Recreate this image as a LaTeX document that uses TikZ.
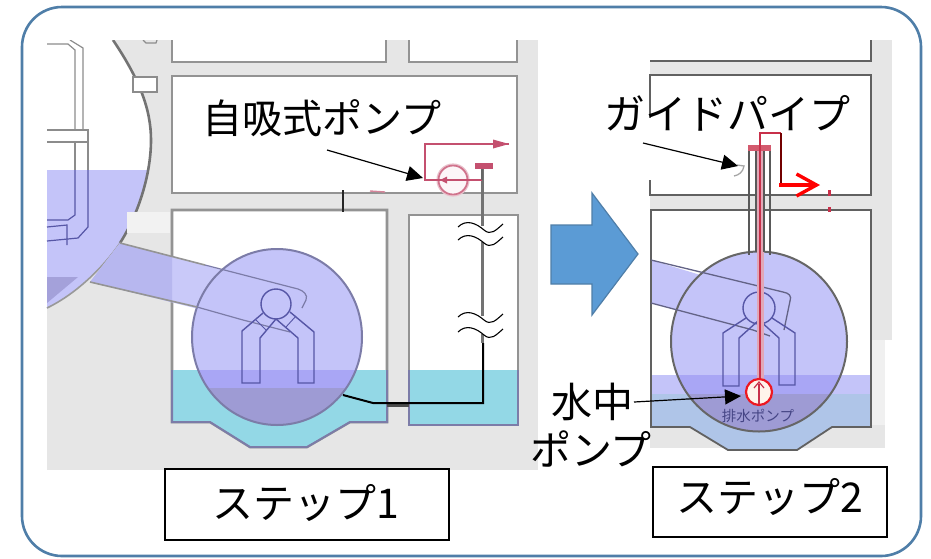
\documentclass[tikz,border=0pt]{standalone}
\usepackage{fontspec}
\setmainfont{Noto Sans CJK JP}
\usetikzlibrary{arrows.meta}
\definecolor{bggray}{HTML}{E6E6E6}
\definecolor{lav}{HTML}{C4C4F9}
\definecolor{lavmid}{HTML}{A9A6F5}
\definecolor{lavdeep}{HTML}{9E9BD4}
\definecolor{ventl}{HTML}{B7B7EF}
\definecolor{wat}{HTML}{93D8E6}
\definecolor{wat2}{HTML}{AFC5E8}
\definecolor{edge}{HTML}{7C7CA8}
\definecolor{leg}{HTML}{5656A6}
\definecolor{frameblue}{HTML}{4F7EA8}
\definecolor{arrowblue}{HTML}{5B9BD5}
\definecolor{pink}{HTML}{C4506F}
\definecolor{crim}{HTML}{C8304A}
\tikzset{
  frame/.style={draw=frameblue,line width=2.6pt,rounded corners=40pt,fill=white},
  roomA/.style={draw=gray!85,line width=2.6pt,fill=white},
  roomB/.style={draw=black!62,line width=1.8pt,fill=white},
  vessel/.style={draw=edge,line width=2pt},
  legline/.style={draw=leg,line width=1.4pt},
  label/.style={font=\fontsize{41}{41}\selectfont,inner sep=0pt,text=black},
  stepbox/.style={draw=black,line width=2pt,fill=white,inner sep=0pt},
  callout/.style={draw=black,line width=1.2pt,-{Triangle[length=16pt,width=15pt]}},
  wavy/.style={draw=black,line width=1.1pt},
  pumpred/.style={draw=pink,line width=1.6pt},
}
\begin{document}
\begin{tikzpicture}[x=1pt,y=-1pt]
\useasboundingbox (0,0) rectangle (931,558);
\draw[frame] (22,7) rectangle (921,556);

% ---------- left panel ----------
\fill[bggray] (47,40) rectangle (538,470);
% drywell
\def\tankpath{(47,40) -- (113,40) .. controls (140,80) and (151,110) .. (151,140) .. controls (151,175) and (138,215) .. (120,243) .. controls (105,265) and (78,293) .. (47,308) -- cycle}
\fill[white] \tankpath;
\begin{scope}
  \clip \tankpath;
  \fill[lav] (47,170) rectangle (160,320);
  \fill[lavdeep!85!lav] (47,277) -- (78,277) -- (47,303) -- cycle;
  \draw[legline,draw=black!45,line width=1.2pt] (47,44) -- (68,44) -- (75,50) -- (75,130);
  \draw[legline,draw=black!45,line width=1.2pt] (70,40) -- (83,48) -- (83,130);
  \draw[fill=white,draw=black!45,line width=1.2pt] (44,130) rectangle (88,142);
\end{scope}
\draw[draw=black!45,line width=1.2pt] (75,142) -- (75,170);
\draw[draw=black!45,line width=1.2pt] (88,142) -- (88,170);
\draw[legline,line width=1.2pt] (75,170) -- (75,215) -- (68,220) -- (47,220);
\draw[legline,line width=1.2pt] (88,170) -- (88,227) -- (78,238) -- (47,241);
\draw[legline,line width=1.2pt] (47,227) -- (67,225) -- (67,245);
\draw[draw=black!55,line width=2.6pt] (113,40) .. controls (140,80) and (151,110) .. (151,140) .. controls (151,175) and (138,215) .. (120,243);
\draw[draw=black!40,line width=1.6pt] (120,243) .. controls (105,265) and (78,293) .. (47,308);
\draw[draw=black!45,line width=1.4pt,fill=white] (133,77) rectangle (157,92);
\draw[draw=black!45,line width=1.2pt] (143,40) -- (146,43) -- (156,43) -- (157,40);

% rooms
\draw[roomA] (172,36) -- (172,62) -- (386,62) -- (386,36);
\fill[white] (173.5,40) rectangle (384.5,60.5);
\draw[roomA] (409,36) -- (409,62) -- (517,62) -- (517,36);
\fill[white] (410.5,40) rectangle (515.5,60.5);
\fill[white] (47,24) rectangle (538,40);
\draw[roomA] (172,76) rectangle (517,193);
\draw[roomA] (172,210) -- (387,210) -- (387,422) -- (350,422) -- (307,447) -- (250,447) -- (210,422) -- (172,422) -- cycle;
\draw[roomA] (409,215) rectangle (518,425);
% water
\fill[wat] (173,370) -- (386,370) -- (386,421) -- (350,421) -- (307,446) -- (250,446) -- (210,421) -- (173,421) -- cycle;
\fill[wat] (410,370) rectangle (517,424);
\draw[draw=edge,line width=2pt] (172,370) -- (172,422) -- (210,422) -- (250,447) -- (307,447) -- (350,422) -- (387,422) -- (387,370);
\draw[draw=edge,line width=2pt] (409,370) -- (409,425) -- (518,425) -- (518,370);
% vent pipe
\fill[lav!92!white] (120,243) -- (230,272) -- (243,320) -- (90,282) -- cycle;
\fill[ventl] (120,243) -- (172,256.5) -- (172,302) -- (90,282) -- cycle;
% circle
\fill[lav] (277,337) ellipse [x radius=85,y radius=88];
\begin{scope}
  \clip (277,337) ellipse [x radius=85,y radius=88];
  \fill[lavmid] (190,370) rectangle (365,388);
  \fill[lavdeep] (190,388) rectangle (365,430);
\end{scope}
\draw[vessel] (277,337) ellipse [x radius=85,y radius=88];
% vent edges
\draw[draw=black!42,line width=1.6pt] (120,243) -- (205,265);
\draw[draw=black!42,line width=1.6pt] (90,282) -- (197,307);
\draw[draw=edge,line width=1.2pt] (205,265) -- (298,289) .. controls (304,291) and (308,295) .. (306,300) -- (302,308);
\draw[draw=edge,line width=1.2pt] (197,307) -- (243,320) -- (290,332);
% Y structure
\draw[legline] (276,304) circle [radius=15];
\draw[legline] (263,313) -- (242,331) -- (242,383) -- (260,383) -- (260,338) -- (276,319) -- (298,338) -- (298,383) -- (314,383) -- (314,332) -- (290,312);
\draw[legline,line width=.9pt] (256,320) -- (266,330);
\draw[legline,line width=.9pt] (296,316) -- (286,327);
% white patch
\fill[black!5] (127,212) rectangle (170,233);
% pipe lines
\draw[draw=black!85,line width=2.8pt] (343,190) -- (343,212);
\draw[draw=pink!70,line width=1.4pt] (370,191) -- (385,192);
\draw[draw=black!55,line width=3pt] (482,168) -- (482,343);
\draw[draw=black!70,line width=3.2pt] (387,405) -- (409,405);
\coordinate (wetA) at (343,395);
\coordinate (wetB) at (373,403);
\coordinate (wetC) at (483,403);
\coordinate (wetD) at (483,343);
\draw[draw=black,line width=2pt] (wetA) -- (wetB) -- (wetC) -- (wetD);
% break marks
\fill[white] (470,226) rectangle (495,242);
\fill[white] (470,316) rectangle (495,334);
\foreach \yy in {227,240,317,332}{
  \draw[wavy] (458,\yy) .. controls (466,\yy-8) and (476,\yy-4) .. (484,\yy+3) .. controls (491,\yy+9) and (496,\yy+3) .. (503,\yy-3);
}
% pump
\draw[draw=pink!35,line width=1.2pt,fill=pink!5] (453,180) circle [radius=16];
\draw[draw=pink!80,line width=1.8pt] (453,180) circle [radius=14.5];
\coordinate (pumpW) at (425,180);
\coordinate (pumpE) at (482,180);
\coordinate (pumpU) at (425,144);
\coordinate (pumpO) at (509,144);
\draw[pumpred] (pumpE) -- (pumpW) -- (pumpU) -- (pumpO);
\fill[pink] (509,144) -- (493,139.5) -- (493,148.5) -- cycle;
\fill[pink] (440,180) -- (447,176.5) -- (447,183.5) -- cycle;
\fill[pink] (475,163) rectangle (493,169);
\draw[draw=black!60,line width=2pt] (482,169) -- (482,180);

% labels left
\node[label,font=\fontsize{40}{40}\selectfont] (selfp) at (322,118) {自吸式ポンプ};
\coordinate (selfs) at (327,150);
\coordinate (selft) at (423,178);
\draw[callout] (selfs) -- (selft);

\node[stepbox,minimum width=284pt,minimum height=71pt] (stepa) at (307,504.5) {};
\node[label] (stepat) at (306,503) {ステップ1};

% big arrow
\draw[draw=frameblue,line width=1.2pt,fill=arrowblue] (551,225) -- (592,225) -- (592,193) -- (638,254) -- (592,315) -- (592,284) -- (551,284) -- cycle;

% ---------- right panel ----------
\fill[bggray] (650,40) rectangle (892,340);
\fill[black!6] (650,340) rectangle (885,448);
\fill[bggray] (650,425) rectangle (885,448);
\draw[roomB] (650,36) -- (871,36) -- (871,61) -- (650,61);
\fill[white] (645,20) rectangle (895,40);
\fill[white] (650,40) rectangle (870,60);
\draw[roomB] (650,75) rectangle (871,195);
\fill[white] (640,118) rectangle (651,180);
\fill[white] (651,210) rectangle (871,427);
% water
\fill[wat2] (651,375) -- (871,375) -- (871,427) -- (832,427) -- (797,450) -- (728,450) -- (690,427) -- (651,427) -- cycle;
\fill[lav] (651,375) rectangle (871,394);
% vent
\fill[lav] (651,260) -- (730,284) -- (730,322) -- (651,303) -- cycle;
% circle
\fill[lav] (759,341.5) ellipse [x radius=88,y radius=90];
\begin{scope}
  \clip (759,341.5) ellipse [x radius=88,y radius=90];
  \fill[lavmid] (660,375) rectangle (860,394);
  \fill[lavdeep] (660,394) rectangle (860,440);
\end{scope}
\draw[vessel,draw=black!60] (759,341.5) ellipse [x radius=88,y radius=90];
% room outline
\draw[roomB,fill=none] (651,210) -- (871,210) -- (871,427) -- (832,427) -- (797,450) -- (728,450) -- (690,427) -- (651,427) -- cycle;
% vent lines
\draw[draw=edge!80!black,line width=1.3pt] (651,260) -- (783,292) .. controls (789,293) and (792,296) .. (790,301) -- (784,330);
\draw[draw=edge!80!black,line width=1.3pt] (651,303) -- (753,330) -- (770,336);
% Y
\draw[legline] (759,308) circle [radius=16];
\draw[legline] (746,318) -- (723,333) -- (723,386) -- (739,386) -- (739,338) -- (759,320) -- (779,338) -- (779,385) -- (795,385) -- (795,333) -- (772,318);
% guide pipe
\fill[pink!50] (757,151) rectangle (763,252);
\draw[draw=black!65,line width=2.2pt] (749,147) -- (749,255);
\draw[draw=black!65,line width=1.8pt] (756,150) -- (756,252);
\draw[draw=black!65,line width=1.8pt] (764,150) -- (764,252);
\draw[draw=black!65,line width=2.2pt] (770,147) -- (770,255);
\fill[crim!80] (748,145) rectangle (771,151);
% suction pipe
\coordinate (subp) at (760,380);
\coordinate (pipeT) at (760,133);
\coordinate (pipeR) at (781,133);
\coordinate (pipeD) at (781,185);
\coordinate (pipeO) at (820,185);
\draw[draw=pink!50,line width=7pt] (760,252) -- (subp);
\draw[draw=crim,line width=2.4pt] (760,252) -- (subp);
\draw[draw=crim,line width=1.6pt] (760,252) -- (pipeT) -- (pipeR);
\draw[draw=black!55!red,line width=1.8pt] (pipeR) -- (pipeD);
\draw[draw=red,line width=3.4pt,-{Straight Barb[length=20pt,width=22pt,line width=3.4pt]}] (779,185) -- (pipeO);
\fill[crim] (827.5,190) rectangle (830.5,196);
\fill[crim] (827.5,207) rectangle (830.5,212);
% submersible pump
\draw[draw=red!70!pink,line width=2.2pt,fill=orange!8] (759,392) circle [radius=13];
\draw[draw=crim,line width=1.2pt] (759,404) -- (759,384);
\draw[draw=crim,line width=1.2pt] (754,388) -- (759,382) -- (764,388);
\node[font=\fontsize{14.5}{14.5}\selectfont,inner sep=0pt,text=leg!80!black] (drain) at (758,416) {排水ポンプ};
% small gray mark
\draw[draw=black!35,line width=1.3pt] (737,165) -- (744,166) .. controls (743,172) and (739,175) .. (734,176);
% labels right
\node[label] (guide) at (727,113) {ガイドパイプ};
\coordinate (guides) at (643,143);
\coordinate (guidet) at (738,166);
\draw[callout] (guides) -- (guidet);
\node[label] (suia) at (592,402) {水中};
\node[label] (suib) at (591,449) {ポンプ};
\coordinate (suis) at (634,402);
\coordinate (suit) at (741,396);
\draw[callout] (suis) -- (suit);
\node[stepbox,minimum width=234pt,minimum height=70pt] (stepb) at (770,502) {};
\node[label] (stepbt) at (770,497) {ステップ2};
\end{tikzpicture}
\end{document}
